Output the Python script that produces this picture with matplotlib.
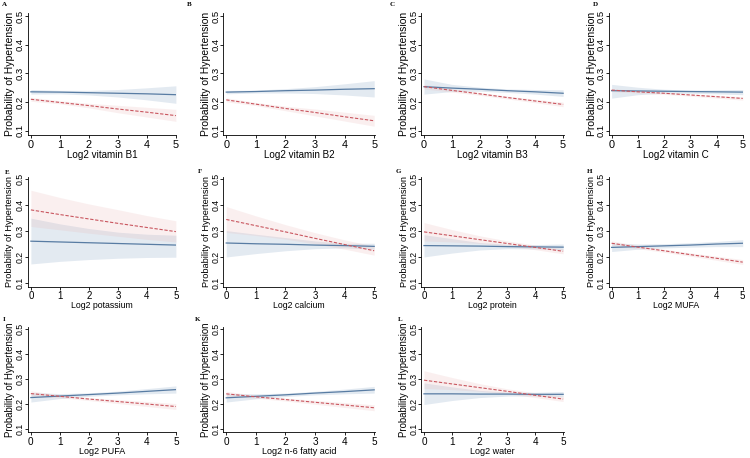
#予測確率のグラフ(11パネル)
import matplotlib
import matplotlib.pyplot as plt

matplotlib.use('Agg')

SIZE = (7.5, 4.58)
DPI = 100
FONT = 'Liberation Sans'
PATH = "out.png"

BLUE = '#587ca3'
RED = '#c9565f'
BLUE_FILL = '#a3bad3'
RED_FILL = '#e9b3b3'

X = [0, 1, 2, 3, 4, 5]

LETTERS = ["A", "B", "C", "D", "E", "F", "G", "H", "I", "K", "L"]
XLABELS = ["Log2 vitamin B1", "Log2 vitamin B2", "Log2 vitamin B3", "Log2 vitamin C",
           "Log2 potassium", "Log2 calcium", "Log2 protein", "Log2 MUFA",
           "Log2 PUFA", "Log2 n-6 fatty acid", "Log2 water"]

blue_mid = [
    [0.236, 0.235, 0.233, 0.231, 0.229, 0.226],
    [0.235, 0.237, 0.240, 0.242, 0.245, 0.247],
    [0.254, 0.249, 0.245, 0.240, 0.236, 0.231],
    [0.240, 0.239, 0.238, 0.237, 0.236, 0.235],
    [0.261, 0.258, 0.255, 0.252, 0.249, 0.246],
    [0.254, 0.251, 0.249, 0.246, 0.244, 0.241],
    [0.244, 0.243, 0.242, 0.240, 0.239, 0.238],
    [0.237, 0.240, 0.243, 0.246, 0.250, 0.253],
    [0.225, 0.231, 0.237, 0.243, 0.250, 0.257],
    [0.224, 0.230, 0.236, 0.243, 0.249, 0.256],
    [0.240, 0.240, 0.239, 0.239, 0.238, 0.238],
]
blue_lo = [
    [0.228, 0.229, 0.225, 0.218, 0.208, 0.196],
    [0.229, 0.232, 0.232, 0.230, 0.225, 0.218],
    [0.228, 0.237, 0.238, 0.234, 0.228, 0.220],
    [0.214, 0.226, 0.231, 0.231, 0.229, 0.226],
    [0.173, 0.183, 0.190, 0.195, 0.198, 0.199],
    [0.200, 0.213, 0.224, 0.232, 0.235, 0.230],
    [0.200, 0.215, 0.227, 0.232, 0.231, 0.227],
    [0.221, 0.230, 0.235, 0.238, 0.240, 0.240],
    [0.207, 0.221, 0.230, 0.236, 0.240, 0.243],
    [0.207, 0.220, 0.229, 0.236, 0.240, 0.243],
    [0.197, 0.213, 0.225, 0.231, 0.231, 0.228],
]
blue_hi = [
    [0.244, 0.241, 0.241, 0.244, 0.250, 0.257],
    [0.241, 0.242, 0.247, 0.254, 0.264, 0.275],
    [0.281, 0.262, 0.252, 0.246, 0.244, 0.243],
    [0.262, 0.252, 0.245, 0.242, 0.243, 0.244],
    [0.350, 0.328, 0.310, 0.296, 0.288, 0.284],
    [0.302, 0.288, 0.275, 0.262, 0.253, 0.253],
    [0.286, 0.271, 0.256, 0.249, 0.248, 0.250],
    [0.254, 0.250, 0.251, 0.255, 0.260, 0.267],
    [0.245, 0.241, 0.244, 0.251, 0.261, 0.272],
    [0.242, 0.240, 0.243, 0.250, 0.259, 0.270],
    [0.284, 0.268, 0.254, 0.247, 0.246, 0.249],
]
red_mid = [
    [0.210, 0.199, 0.188, 0.176, 0.165, 0.153],
    [0.208, 0.193, 0.178, 0.164, 0.149, 0.135],
    [0.254, 0.241, 0.229, 0.216, 0.204, 0.192],
    [0.242, 0.236, 0.231, 0.225, 0.219, 0.213],
    [0.382, 0.364, 0.347, 0.330, 0.314, 0.298],
    [0.345, 0.321, 0.297, 0.272, 0.248, 0.224],
    [0.297, 0.282, 0.267, 0.252, 0.237, 0.222],
    [0.253, 0.238, 0.224, 0.209, 0.195, 0.180],
    [0.241, 0.230, 0.219, 0.209, 0.199, 0.189],
    [0.240, 0.228, 0.217, 0.206, 0.195, 0.184],
    [0.295, 0.280, 0.265, 0.250, 0.234, 0.219],
]
red_lo = [
    [0.203, 0.194, 0.180, 0.163, 0.148, 0.133],
    [0.201, 0.188, 0.170, 0.152, 0.134, 0.116],
    [0.246, 0.235, 0.224, 0.211, 0.198, 0.184],
    [0.237, 0.232, 0.227, 0.221, 0.214, 0.207],
    [0.318, 0.305, 0.292, 0.280, 0.268, 0.258],
    [0.295, 0.283, 0.269, 0.251, 0.230, 0.207],
    [0.262, 0.258, 0.252, 0.242, 0.228, 0.212],
    [0.245, 0.232, 0.218, 0.203, 0.187, 0.171],
    [0.231, 0.224, 0.213, 0.201, 0.189, 0.177],
    [0.231, 0.222, 0.211, 0.198, 0.185, 0.172],
    [0.262, 0.257, 0.250, 0.240, 0.225, 0.209],
]
red_hi = [
    [0.217, 0.205, 0.196, 0.189, 0.182, 0.175],
    [0.215, 0.199, 0.186, 0.176, 0.165, 0.154],
    [0.262, 0.247, 0.234, 0.221, 0.210, 0.200],
    [0.247, 0.240, 0.235, 0.229, 0.224, 0.219],
    [0.458, 0.430, 0.405, 0.383, 0.360, 0.340],
    [0.395, 0.359, 0.325, 0.294, 0.266, 0.242],
    [0.333, 0.306, 0.282, 0.262, 0.246, 0.232],
    [0.262, 0.245, 0.230, 0.216, 0.203, 0.190],
    [0.252, 0.236, 0.225, 0.217, 0.209, 0.201],
    [0.250, 0.234, 0.223, 0.214, 0.205, 0.196],
    [0.333, 0.306, 0.281, 0.260, 0.244, 0.230],
]

#   パネルの配置(左, 幅, y軸ラベルの距離px)と(下, 高さ, 文字サイズ)
COLS = [(0.0373, 0.198, 18), (0.2977, 0.202, 17), (0.5616, 0.190, 17), (0.812, 0.179, 17)]
ROWS = [(0.705, 0.266, 7.5, 6.8), (0.374, 0.240, 6.7, 6.3), (0.056, 0.2306, 6.9, 6.3)]
LETTER_POS = [(0.003, 0.995), (0.249, 0.995), (0.520, 0.995), (0.791, 0.995),
              (0.006, 0.628), (0.264, 0.630), (0.528, 0.630), (0.783, 0.630),
              (0.003, 0.307), (0.260, 0.307), (0.530, 0.307)]


def config_graph():
    plt.rcParams['font.family'] = [FONT, 'DejaVu Sans']
    plt.rcParams['font.size'] = 7.5
    plt.rcParams['axes.linewidth'] = 0.6


def draw_panel(fig, i):
    col = COLS[i % 4]
    row = ROWS[i // 4]
    ax = fig.add_axes([col[0], row[0], col[1], row[1]])
    ax.fill_between(X, blue_lo[i], blue_hi[i], color=BLUE_FILL, alpha=0.3, lw=0)
    ax.fill_between(X, red_lo[i], red_hi[i], color=RED_FILL, alpha=0.2, lw=0)
    ax.plot(X, blue_mid[i], color=BLUE, lw=0.9)
    ax.plot(X, red_mid[i], color=RED, lw=0.8, ls=(0, (3, 1.5)))
    ax.set_xlim(-0.1, 5.02)
    ax.set_ylim(0.085, 0.51)
    ax.set_xticks([0, 1, 2, 3, 4, 5])
    ax.set_yticks([0.1, 0.2, 0.3, 0.4, 0.5])
    ax.set_yticklabels(["0.1", "0.2", "0.3", "0.4", "0.5"], rotation=90, va='center')
    ax.tick_params(axis='x', length=2.2, width=0.6, pad=1, labelsize=row[2] + 0.3)
    ax.tick_params(axis='y', length=2, width=0.6, pad=0.2, labelsize=row[3])
    ax.spines['top'].set_visible(False)
    ax.spines['right'].set_visible(False)
    ax.set_xlabel(XLABELS[i], fontsize=row[2] - 0.4, labelpad=0)
    ax.set_ylabel("Probability of Hypertension", fontsize=row[2], va='center')
    ax.yaxis.set_label_coords(-col[2] / (col[1] * SIZE[0] * DPI), 0.5)
    fig.text(LETTER_POS[i][0], LETTER_POS[i][1], LETTERS[i], family='Liberation Serif',
             fontweight='bold', fontsize=5, va='top')


def create_graph():
    fig = plt.figure(figsize=SIZE, dpi=DPI)
    for i in range(len(LETTERS)):
        draw_panel(fig, i)
    plt.savefig(PATH, dpi=DPI)
    plt.close()


if __name__ == "__main__":
    config_graph()
    create_graph()
